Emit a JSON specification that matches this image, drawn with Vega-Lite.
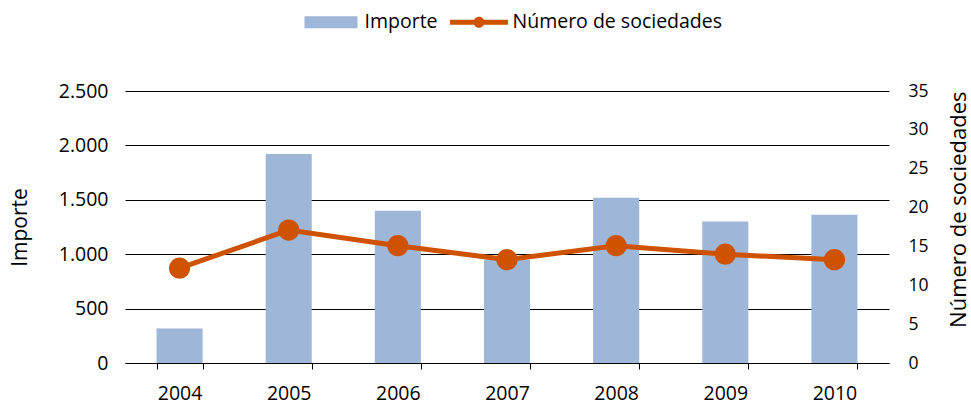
{
  "$schema": "https://vega.github.io/schema/vega-lite/v6.json",
  "width": 764,
  "height": 272,
  "autosize": {"type": "none"},
  "padding": {"left": 125, "top": 91, "right": 82, "bottom": 42},
  "background": "white",
  "config": {
    "view": {"stroke": null},
    "font": "Open Sans",
    "axis": {"labelColor": "#000", "titleColor": "#000", "titleFontWeight": "normal", "labelFont": "Open Sans", "titleFont": "Open Sans"},
    "legend": {"labelFont": "Open Sans", "labelColor": "#000"}
  },
  "data": {
    "values": [
      {"year": "2004", "importe": 318, "sociedades": 12.2},
      {"year": "2005", "importe": 1922, "sociedades": 17.1},
      {"year": "2006", "importe": 1400, "sociedades": 15.1},
      {"year": "2007", "importe": 950, "sociedades": 13.3},
      {"year": "2008", "importe": 1518, "sociedades": 15.1},
      {"year": "2009", "importe": 1300, "sociedades": 14.0},
      {"year": "2010", "importe": 1362, "sociedades": 13.3}
    ]
  },
  "encoding": {
    "x": {
      "field": "year",
      "type": "ordinal",
      "scale": {"paddingInner": 0.578, "paddingOuter": 0.289},
      "axis": {
        "title": null,
        "labelAngle": 0,
        "tickBand": "extent",
        "tickSize": 6,
        "tickColor": "#000",
        "domainColor": "#000",
        "labelFontSize": 19.5,
        "labelPadding": 15,
        "encode": {"ticks": {"update": {"y": {"value": -6}, "y2": {"value": 6}}}}
      }
    }
  },
  "layer": [
    {
      "mark": {"type": "bar"},
      "encoding": {
        "y": {
          "field": "importe",
          "type": "quantitative",
          "scale": {"domain": [0, 2500]},
          "axis": {
            "title": "Importe",
            "values": [0, 500, 1000, 1500, 2000, 2500],
            "grid": true,
            "gridColor": "#000",
            "gridOpacity": 1,
            "ticks": false,
            "domain": false,
            "labelPadding": 17,
            "labelFontSize": 19.5,
            "labelExpr": "replace(format(datum.value, ','), ',', '.')",
            "titleFontSize": 21,
            "titlePadding": 28
          }
        },
        "color": {
          "datum": "Importe",
          "type": "nominal",
          "scale": {"domain": ["Importe", "Número de sociedades"], "range": ["#9EB6D8", "#CF5200"]},
          "legend": {
            "title": null,
            "orient": "none",
            "direction": "horizontal",
            "legendX": 177,
            "legendY": -98,
            "padding": 0,
            "labelFontSize": 19.5,
            "labelOffset": 4.5,
            "labelLimit": 400,
            "columnPadding": 12,
            "symbolSize": 3364,
            "encode": {
              "symbols": {
                "update": {
                  "shape": {"signal": "datum.value === 'Importe' ? 'M-0.914,-0.207H0.914V0.207H-0.914Z' : 'M-1,-0.086H1V0.086H-1Z M0.19,0A0.19,0.19 0 1 1 -0.19,0A0.19,0.19 0 1 1 0.19,0Z'"},
                  "fill": {"signal": "datum.value === 'Importe' ? '#9EB6D8' : '#CF5200'"},
                  "stroke": {"value": "transparent"},
                  "strokeWidth": {"value": 0},
                  "opacity": {"value": 1},
                  "size": {"value": 3364}
                }
              }
            }
          }
        }
      }
    },
    {
      "encoding": {
        "y": {
          "field": "sociedades",
          "type": "quantitative",
          "scale": {"domain": [0, 35]},
          "axis": {
            "orient": "right",
            "title": "Número de sociedades",
            "values": [0, 5, 10, 15, 20, 25, 30, 35],
            "grid": false,
            "ticks": false,
            "domain": false,
            "labelPadding": 19,
            "labelFontSize": 17.5,
            "titleFontSize": 22,
            "titleAngle": 270,
            "titleAnchor": "end",
            "titlePadding": 42
          }
        },
        "color": {
          "datum": "Número de sociedades",
          "type": "nominal",
          "scale": {"domain": ["Importe", "Número de sociedades"], "range": ["#9EB6D8", "#CF5200"]}
        }
      },
      "layer": [
        {"mark": {"type": "line", "strokeWidth": 5}},
        {"mark": {"type": "point", "filled": true, "size": 450, "opacity": 1}}
      ]
    }
  ],
  "resolve": {"scale": {"y": "independent"}}
}
